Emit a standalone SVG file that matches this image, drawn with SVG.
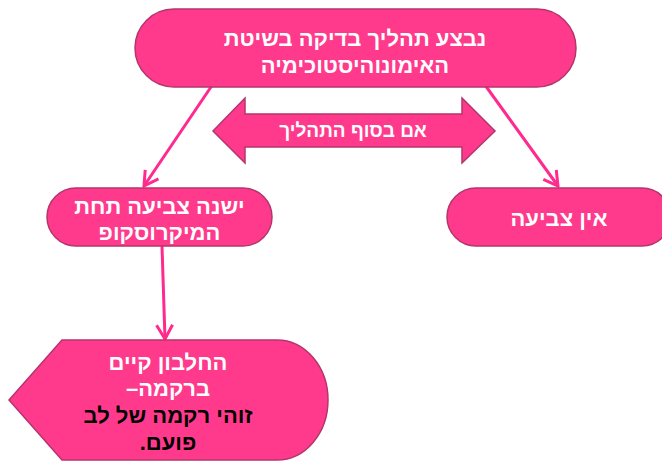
<svg xmlns="http://www.w3.org/2000/svg" width="662" height="461" viewBox="0 0 662 461">
<defs>
<style>
.node{fill:#FF3A8C;stroke:#B5356B;stroke-width:1.5}
.conn{stroke:#FF2A8E;stroke-width:3;fill:none}
.t{font-family:"Liberation Sans","DejaVu Sans",sans-serif;font-weight:bold;fill:#ffffff;text-anchor:middle;direction:rtl}
.dark{fill:#000000}
</style>
<marker id="arr" viewBox="0 0 20 20" refX="18" refY="10" markerWidth="20" markerHeight="20" markerUnits="userSpaceOnUse" orient="auto">
<path d="M4,2 L18,10 L4,18" fill="none" stroke="#FF2A8E" stroke-width="3" stroke-linejoin="miter"/>
</marker>
</defs>
<rect width="662" height="461" fill="#ffffff"/>
<g id="connectors">
<line class="conn" x1="213" y1="84" x2="144" y2="186" marker-end="url(#arr)"/>
<line class="conn" x1="485" y1="85" x2="558" y2="186" marker-end="url(#arr)"/>
<line class="conn" x1="162" y1="246" x2="165" y2="339" marker-end="url(#arr)"/>
</g>
<g id="node-top">
<rect class="node" x="135" y="9" width="441" height="78" rx="39"/>
<text class="t" x="355" y="46" font-size="22">נבצע תהליך בדיקה בשיטת</text>
<text class="t" x="355" y="73" font-size="22">האימונוהיסטוכימיה</text>
</g>
<g id="node-double-arrow">
<path class="node" d="M213,131 L245,98 L245,114 L462,114 L462,98 L495,131 L462,163 L462,147 L245,147 L245,163 Z"/>
<text class="t" x="353" y="137" font-size="19">אם בסוף התהליך</text>
</g>
<g id="node-left">
<rect class="node" x="47" y="188" width="225" height="58" rx="29"/>
<text class="t" x="159.5" y="214" font-size="22">ישנה צביעה תחת</text>
<text class="t" x="159.5" y="240" font-size="22">המיקרוסקופ</text>
</g>
<g id="node-right">
<rect class="node" x="447" y="188" width="224" height="58" rx="29"/>
<text class="t" x="559" y="226" font-size="22">אין צביעה</text>
</g>
<g id="node-bottom">
<path class="node" d="M62,340 L277,340 A51,60 0 0 1 277,460 L62,460 L9,400 Z"/>
<text class="t" x="168" y="370" font-size="22">החלבון קיים</text>
<text class="t" x="168" y="396" font-size="22">ברקמה–</text>
<text class="t dark" x="168" y="423" font-size="22">זוהי רקמה של לב</text>
<text class="t dark" x="168" y="450" font-size="22">פועם.</text>
</g>
</svg>
